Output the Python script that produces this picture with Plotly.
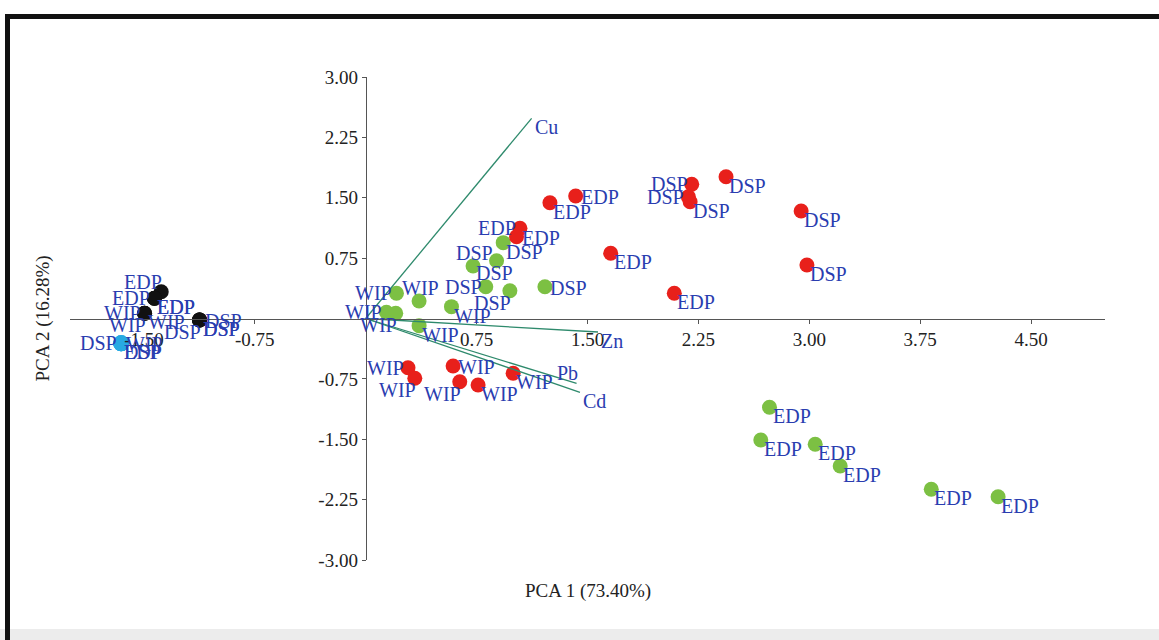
import plotly.graph_objects as go

# ---------------- data ----------------
red_x = [1.246, 1.420, 1.043, 1.020, 1.657, 2.087,
         2.205, 2.182, 2.194, 2.437, 2.945, 2.984,
         0.286, 0.332, 0.591, 0.636, 0.760, 0.997]
red_y = [1.438, 1.522, 1.120, 1.016, 0.810, 0.313,
         1.667, 1.513, 1.451, 1.761, 1.335, 0.665,
         -0.611, -0.743, -0.590, -0.785, -0.826, -0.681]
red_lab = ["EDP"] * 6 + ["DSP"] * 6 + ["WIP"] * 6

green_x = [0.208, 0.361, 0.140, 0.203, 0.361, 0.580,
           0.726, 0.812, 0.885, 0.930, 0.975, 1.212,
           2.731, 2.672, 3.040, 3.209, 3.825, 4.277]
green_y = [0.313, 0.217, 0.077, 0.065, -0.089, 0.147,
           0.652, 0.395, 0.718, 0.942, 0.345, 0.395,
           -1.103, -1.509, -1.563, -1.832, -2.122, -2.214]
green_lab = ["WIP"] * 6 + ["DSP"] * 6 + ["EDP"] * 6

black_x = [-1.383, -1.429, -1.429, -1.429, -1.496, -1.496, -1.496,
           -1.124, -1.124, -1.124, -1.124]
black_y = [0.333, 0.251, 0.251, 0.251, 0.065, 0.065, 0.065,
           -0.019, -0.019, -0.019, -0.019]
black_lab = ["EDP", "EDP", "EDP", "EDP", "WIP", "WIP", "WIP",
             "DSP", "DSP", "DSP", "DSP"]

cyan_x = [-1.654, -1.654, -1.654, -1.654]
cyan_y = [-0.308, -0.308, -0.308, -0.308]
cyan_lab = ["DSP", "WIP", "DSP", "EDP"]

load_names = ["Cu", "Zn", "Pb", "Cd"]
load_x = [1.122, 1.571, 1.426, 1.449]
load_y = [2.487, -0.168, -0.805, -0.917]

x_ticks = [-1.50, -0.75, 0.75, 1.50, 2.25, 3.00, 3.75, 4.50]
y_ticks = [-3.00, -2.25, -1.50, -0.75, 0.75, 1.50, 2.25, 3.00]
x_title = "PCA 1 (73.40%)"
y_title = "PCA 2 (16.28%)"

# ---------------- label placement styles ----------------
red_pos = ["br", "r", "l", "r", "br", "br",
           "l", "l", "br", "br", "br", "br",
           "l", "bl", "r", "bl", "br", "br"]
green_pos = ["l", "t", "l", "bl", "br", "br",
             "t", "l", "b", "br", "bl", "r",
             "br", "br", "br", "br", "br", "br"]
black_pos = ["tl", "l", "br", "br", "l", "bl", "br",
             "r", "br", "br", "bl"]
cyan_pos = ["l", "r", "br", "br"]
load_pos = ["br", "br", "tl", "br"]

PLACE = {
    "br": dict(xanchor="left", xshift=1, yshift=-9),
    "r": dict(xanchor="left", xshift=3, yshift=-1),
    "l": dict(xanchor="right", xshift=-2, yshift=0),
    "bl": dict(xanchor="right", xshift=3, yshift=-12),
    "t": dict(xanchor="center", xshift=1, yshift=13),
    "b": dict(xanchor="center", xshift=-2, yshift=-12),
    "tl": dict(xanchor="right", xshift=3, yshift=10),
}

FONT = "Liberation Serif"
TXT = "#2a3db0"
LINE_C = "#2e8a6c"

fig = go.Figure()

groups = [
    (green_x, green_y, "#7cc043", 15),
    (red_x, red_y, "#e8201b", 15),
    (black_x, black_y, "#111111", 15),
    (cyan_x, cyan_y, "#28aae2", 16),
]
for gx, gy, col, sz in groups:
    fig.add_trace(go.Scatter(x=gx, y=gy, mode="markers",
                             marker=dict(size=sz, color=col, line=dict(width=0)),
                             hoverinfo="skip", showlegend=False))

for lx, ly in zip(load_x, load_y):
    fig.add_trace(go.Scatter(x=[0, lx], y=[0, ly], mode="lines",
                             line=dict(color=LINE_C, width=1.3),
                             hoverinfo="skip", showlegend=False))

annotations = []
def add_labels(xs, ys, labs, poss):
    for xv, yv, t, p in zip(xs, ys, labs, poss):
        annotations.append(dict(x=xv, y=yv, xref="x", yref="y", text=t,
                                showarrow=False, yanchor="middle",
                                font=dict(family=FONT, size=20, color=TXT),
                                **PLACE[p]))

add_labels(green_x, green_y, green_lab, green_pos)
add_labels(red_x, red_y, red_lab, red_pos)
add_labels(black_x, black_y, black_lab, black_pos)
add_labels(cyan_x, cyan_y, cyan_lab, cyan_pos)
add_labels(load_x, load_y, load_names, load_pos)

annotations.append(dict(x=0.5, y=-0.065, xref="paper", yref="paper",
                        text=x_title, showarrow=False, xanchor="center",
                        yanchor="middle",
                        font=dict(family=FONT, size=19, color="#222")))
annotations.append(dict(x=-0.027, y=0.5, xref="paper", yref="paper",
                        text=y_title, showarrow=False, textangle=-90,
                        xanchor="center", yanchor="middle",
                        font=dict(family=FONT, size=19, color="#222")))

L, R, T, B = 70, 54, 77, 80
W, H = 1159, 640
pw, ph = W - L - R, H - T - B
def px2paper_x(px):
    return (px - L) / pw
def px2paper_y(py):
    return (H - B - py) / ph

shapes = [
    dict(type="rect", xref="paper", yref="paper",
         x0=px2paper_x(-5), x1=px2paper_x(W + 5),
         y0=px2paper_y(H + 5), y1=px2paper_y(629),
         fillcolor="#ececec", line=dict(width=0), layer="below"),
    dict(type="line", xref="paper", yref="paper",
         x0=px2paper_x(5), x1=px2paper_x(W + 5),
         y0=px2paper_y(16.5), y1=px2paper_y(16.5),
         line=dict(color="#111111", width=5)),
    dict(type="line", xref="paper", yref="paper",
         x0=px2paper_x(7.5), x1=px2paper_x(7.5),
         y0=px2paper_y(14), y1=px2paper_y(H + 5),
         line=dict(color="#111111", width=5)),
]

axis_common = dict(showgrid=False, zeroline=False, showline=True,
                   linecolor="#555555", linewidth=1, ticks="outside",
                   ticklen=4, tickcolor="#555555", automargin=False,
                   tickfont=dict(family=FONT, size=19, color="#222222"),
                   anchor="free")

fig.update_layout(
    width=W, height=H,
    margin=dict(l=L, r=R, t=T, b=B),
    paper_bgcolor="white", plot_bgcolor="white",
    xaxis=dict(range=[-2, 5], tickvals=x_ticks,
               ticktext=["%.2f" % v for v in x_ticks],
               position=0.5, **axis_common),
    yaxis=dict(range=[-3, 3], tickvals=y_ticks,
               ticktext=["%.2f" % v for v in y_ticks],
               position=2 / 7, **axis_common),
    annotations=annotations,
    shapes=shapes,
)

fig.write_html("out.html")
